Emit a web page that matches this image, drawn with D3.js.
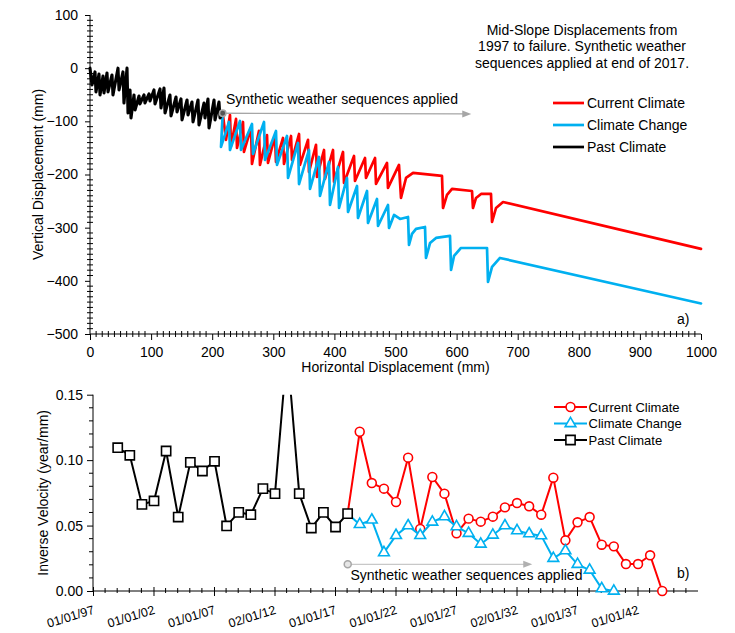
<!DOCTYPE html>
<html><head><meta charset="utf-8">
<script src="https://cdn.jsdelivr.net/npm/d3@7"></script>
<style>body{margin:0;background:#fff;} text{font-family:"Liberation Sans",Arial,sans-serif;fill:#000;}</style>
</head><body><svg id="c" width="735" height="633"></svg>
<script>
// ---------- Panel a) data: horizontal (mm) / vertical (mm) displacement ----------
const pastH = [0,3.3,8.2,9.8,14.7,16.4,21.3,22.9,27.8,29.5,36.0,37.6,45.8,47.5,54.0,55.6,60.6,62.2,65.5,67.1,72.0,73.7,80.2,81.8,88.4,90.0,96.6,98.2,104.7,106.4,114.6,116.2,121.1,122.8,130.9,132.6,140.8,142.4,148.9,150.6,158.8,160.4,166.9,168.6,176.8,178.4,186.6,188.2,193.1,194.8,203.0,204.6,211.1,212.8,217.2];
const pastV = [0,-31.6,-7.1,-44.8,-10.9,-50.4,-14.7,-46.6,-9.0,-44.8,-12.8,-50.4,0,-41.0,-7.1,-65.5,0,-84.3,-41.0,-93.7,-50.4,-78.6,-52.3,-67.3,-50.4,-65.5,-48.5,-61.7,-41.0,-67.3,-39.1,-74.9,-37.2,-84.3,-50.4,-89.9,-54.2,-82.4,-57.9,-97.4,-59.8,-88.0,-63.6,-101.2,-59.8,-106.8,-65.5,-93.7,-57.9,-112.5,-59.8,-97.4,-63.6,-93.7,-84.8];
const currentH = [217.2,222.6,229.1,230.8,239.0,240.6,250.4,252.0,263.5,265.1,276.6,278.2,289.7,291.3,302.8,304.4,315.9,317.5,329.0,330.6,342.1,343.7,356.8,358.4,369.9,371.5,383.0,384.6,397.7,399.4,414.1,415.7,432.1,433.7,450.1,451.7,466.5,468.1,486.1,487.7,505.7,509.0,517.2,528.7,576.1,577.8,584.3,592.5,625.2,626.8,631.8,640.0,656.3,658.0,664.5,676.0,1000];
const currentV = [-84.8,-134.9,-88.0,-146.3,-95.5,-150.1,-101.2,-157.6,-112.5,-180.2,-117.9,-182.0,-125.8,-178.3,-127.5,-176.4,-131.2,-180.2,-127.5,-172.6,-123.8,-182.0,-134.9,-195.2,-144.3,-204.6,-153.9,-208.4,-153.9,-214.0,-157.6,-215.9,-165.1,-212.2,-168.9,-206.5,-168.9,-217.8,-178.3,-225.3,-182.0,-244.1,-206.5,-197.1,-202.7,-263.0,-238.5,-227.2,-231.0,-263.0,-244.1,-236.6,-236.6,-289.3,-263.0,-251.7,-340.0];
const changeH = [217.2,214.4,227.5,229.1,245.5,247.1,265.1,266.8,284.8,286.4,304.4,306.1,322.4,324.1,340.5,342.1,358.4,360.1,374.8,376.4,391.2,392.8,405.9,407.6,420.6,422.3,437.0,438.6,453.4,455.0,469.7,471.4,487.7,489.4,497.6,507.4,520.5,522.1,527.0,533.6,548.3,549.9,556.5,566.3,589.2,590.9,595.8,607.2,649.8,651.4,658.0,671.0,1000];
const changeV = [-84.8,-148.2,-101.2,-153.9,-99.3,-153.9,-104.9,-161.4,-101.2,-172.6,-118.1,-182.0,-127.5,-206.5,-140.7,-218.0,-153.9,-227.2,-167.0,-240.4,-176.4,-257.3,-185.8,-263.0,-206.5,-270.5,-221.6,-281.8,-231.0,-291.2,-246.0,-296.8,-257.3,-300.6,-276.1,-283.6,-279.9,-332.5,-311.8,-302.4,-298.7,-357.0,-329.0,-319.3,-315.6,-379.5,-353.2,-338.2,-338.2,-402.1,-373.9,-357.0,-442.6];
const hTicks = [0,100,200,300,400,500,600,700,800,900,1000];
const vTicks = [100,0,-100,-200,-300,-400,-500];

// ---------- Panel b) data: inverse velocity (year/mm) ----------
const pastYears = [1999,2000,2001,2002,2003,2004,2005,2006,2007,2008,2009,2010,2011,2012,2013,2014,2015,2016,2017,2018];
const pastInv = [0.1095,0.1037,0.0662,0.0688,0.1070,0.0565,0.0983,0.0917,0.0991,0.0497,0.0601,0.0583,0.0782,0.0744,0.185,0.0744,0.0481,0.0601,0.0489,0.0591];
const currentYears = [2018,2019,2020,2021,2022,2023,2024,2025,2026,2027,2028,2029,2030,2031,2032,2033,2034,2035,2036,2037,2038,2039,2040,2041,2042,2043,2044];
const currentInv = [0.0591,0.1217,0.0825,0.0782,0.0680,0.1019,0.0474,0.0871,0.0744,0.0441,0.0553,0.0530,0.0568,0.0639,0.0672,0.0647,0.0583,0.0866,0.0387,0.0525,0.0565,0.0354,0.0341,0.0206,0.0206,0.0273,0.0];
const changeYears = [2018,2019,2020,2021,2022,2023,2024,2025,2026,2027,2028,2029,2030,2031,2032,2033,2034,2035,2036,2037,2038,2039,2040];
const changeInv = [0.0591,0.0509,0.0543,0.0293,0.0425,0.0499,0.0425,0.0527,0.0568,0.0492,0.0441,0.0359,0.0428,0.0499,0.0461,0.0438,0.0423,0.0250,0.0308,0.0204,0.0160,0.0018,0.0];
const dateTickValues = ["1997-01-01","2002-01-01","2007-01-01","2012-01-02","2017-01-01","2022-01-01","2027-01-01","2032-01-02","2037-01-01","2042-01-01"];
const dateTickLabels = ["01/01/97","01/01/02","01/01/07","02/01/12","01/01/17","01/01/22","01/01/27","02/01/32","01/01/37","01/01/42"];
const invTicks = [0,0.05,0.10,0.15];

const RED = "#ff0000", BLUE = "#00b0f0", BLACK = "#000000", GREY = "#a6a6a6";
const svg = d3.select("#c");

// ================= Panel a =================
const xA = d3.scaleLinear().domain([0,1000]).range([90,701]);
const yA = d3.scaleLinear().domain([-500,100]).range([334,15]);
const gA = svg.append("g");

// minor ticks
const minorH = d3.range(0,1001,10).filter(d=>d%100!==0);
gA.selectAll(".mhx").data(minorH).enter().append("line")
  .attr("x1",d=>xA(d)).attr("x2",d=>xA(d)).attr("y1",331).attr("y2",337)
  .attr("stroke","#000").attr("stroke-width",1);
const minorV = d3.range(-500,101,10).filter(d=>d%100!==0);
gA.selectAll(".mvy").data(minorV).enter().append("line")
  .attr("y1",d=>yA(d)).attr("y2",d=>yA(d)).attr("x1",87).attr("x2",93)
  .attr("stroke","#000").attr("stroke-width",1);

const axA_x = gA.append("g").attr("transform","translate(0,334)")
  .call(d3.axisBottom(xA).tickValues(hTicks).tickSize(6).tickPadding(7).tickFormat(d3.format("d")));
const axA_y = gA.append("g").attr("transform","translate(90,0)")
  .call(d3.axisLeft(yA).tickValues(vTicks).tickSize(5).tickPadding(7).tickFormat(d3.format("d")));
[axA_x,axA_y].forEach(a=>{
  a.select(".domain").attr("stroke","#000").attr("stroke-width",1);
  a.selectAll(".tick line").attr("stroke","#000");
  a.selectAll("text").style("font-size","14px").style("font-family","'Liberation Sans',Arial,sans-serif").attr("fill","#000");
});
axA_x.select(".domain").attr("d","M90,0H701");
axA_y.select(".domain").attr("d","M0,15V334");

const lineA = d3.line().x(d=>xA(d[0])).y(d=>yA(d[1]));
function drawA(H,V,color,w){
  gA.append("path").datum(H.map((h,i)=>[h,V[i]])).attr("d",lineA)
    .attr("fill","none").attr("stroke",color).attr("stroke-width",w)
    .attr("stroke-linejoin","round").attr("stroke-linecap","round");
}
drawA(currentH,currentV,RED,2.7);
drawA(changeH,changeV,BLUE,2.7);
drawA(pastH,pastV,BLACK,3.1);

// annotation arrow a)
const arrowStartA = [217.2,-84.8], arrowEndA = [624,-86];
gA.append("line").attr("x1",xA(arrowStartA[0])).attr("y1",yA(arrowStartA[1]))
  .attr("x2",xA(arrowEndA[0])-7).attr("y2",yA(arrowEndA[1]))
  .attr("stroke",GREY).attr("stroke-width",1.3);
gA.append("path").attr("d",`M${xA(arrowEndA[0])},${yA(arrowEndA[1])}l-9,-3.5v7z`).attr("fill",GREY);
gA.append("circle").attr("cx",xA(arrowStartA[0])).attr("cy",yA(arrowStartA[1])).attr("r",3.2)
  .attr("fill","#555").attr("stroke",GREY).attr("stroke-width",1.5);
gA.append("text").attr("x",226).attr("y",104).style("font-size","14px").text("Synthetic weather sequences applied");

// title block
const titleLines = ["Mid-Slope Displacements from","1997 to failure. Synthetic weather","sequences applied at end of 2017."];
gA.selectAll(".tl").data(titleLines).enter().append("text")
  .attr("x",582).attr("y",(d,i)=>34.5+i*16.8).attr("text-anchor","middle").style("font-size","14px").text(d=>d);

// legend a
const legA = [["Current Climate",RED],["Climate Change",BLUE],["Past Climate",BLACK]];
legA.forEach((l,i)=>{
  const y = 103 + i*22;
  gA.append("line").attr("x1",553).attr("x2",584).attr("y1",y).attr("y2",y).attr("stroke",l[1]).attr("stroke-width",2.7);
  gA.append("text").attr("x",587).attr("y",y+5).style("font-size","14px").text(l[0]);
});
gA.append("text").attr("x",677).attr("y",324).style("font-size","14px").text("a)");
gA.append("text").attr("x",395.5).attr("y",372).attr("text-anchor","middle").style("font-size","14px").text("Horizontal Displacement (mm)");
gA.append("text").attr("transform","translate(43,174.5) rotate(-90)").attr("text-anchor","middle").style("font-size","14px").text("Vertical Displacement (mm)");

// ================= Panel b =================
const parse = d3.timeParse("%Y-%m-%d");
const xB = d3.scaleTime().domain([parse("1997-01-01"),parse("2047-01-01")]).range([93,698]);
const yB = d3.scaleLinear().domain([0,0.15]).range([591,394.7]);
const gB = svg.append("g");
const yr = y => parse(y+"-01-17");

svg.append("defs").append("clipPath").attr("id","clipB").append("rect")
  .attr("x",60).attr("y",yB(0.15)).attr("width",660).attr("height",633-yB(0.15));

// minor ticks b
const minorYears = d3.range(1998,2047).filter(y=>(y-1997)%5!==0);
gB.selectAll(".mbx").data(minorYears).enter().append("line")
  .attr("x1",d=>xB(parse(d+"-01-01"))).attr("x2",d=>xB(parse(d+"-01-01"))).attr("y1",588).attr("y2",593)
  .attr("stroke","#000");
const minorInv = d3.range(1,15).filter(i=>i%5!==0).map(i=>i/100);
gB.selectAll(".mby").data(minorInv).enter().append("line")
  .attr("y1",d=>yB(d)).attr("y2",d=>yB(d)).attr("x1",89).attr("x2",93).attr("stroke","#000");

const axB_y = gB.append("g").attr("transform","translate(93,0)")
  .call(d3.axisLeft(yB).tickValues(invTicks).tickSize(6).tickPadding(4).tickFormat(d3.format(".2f")));
axB_y.select(".domain").attr("d",`M0,${yB(0.15)}V${yB(0)}`);
const axB_x = gB.append("g").attr("transform","translate(0,591)")
  .call(d3.axisBottom(xB).tickValues(dateTickValues.map(parse)).tickSize(5).tickFormat((d,i)=>dateTickLabels[i]));
axB_x.select(".domain").attr("d","M93,0H698");
axB_x.selectAll(".tick line").attr("y1",-4).attr("y2",5);
[axB_x,axB_y].forEach(a=>{
  a.select(".domain").attr("stroke","#000");
  a.selectAll(".tick line").attr("stroke","#000");
  a.selectAll("text").style("font-size","14px").style("font-family","'Liberation Sans',Arial,sans-serif").attr("fill","#000");
});
axB_x.selectAll("text").style("font-size","12.5px").attr("text-anchor","end").attr("x",0).attr("y",0)
  .attr("dy","0.71em").attr("transform","translate(-1,14) rotate(-17)");

const lineB = d3.line().x(d=>xB(d[0])).y(d=>yB(d[1]));
const plotB = gB.append("g").attr("clip-path","url(#clipB)");
function drawB(years,vals,color,sym,size,skipFirst){
  const pts = years.map((y,i)=>[yr(y),vals[i]]);
  plotB.append("path").datum(pts).attr("d",lineB).attr("fill","none").attr("stroke",color)
    .attr("stroke-width",2).attr("stroke-linejoin","round");
  plotB.selectAll(null).data(skipFirst?pts.slice(1):pts).enter().append("path")
    .attr("transform",d=>`translate(${xB(d[0])},${yB(d[1])})`)
    .attr("d",d3.symbol().type(sym).size(size))
    .attr("fill","#fff").attr("stroke",color).attr("stroke-width",1.6);
}
drawB(currentYears,currentInv,RED,d3.symbolCircle,62,true);
drawB(changeYears,changeInv,BLUE,d3.symbolTriangle,50,true);
drawB(pastYears,pastInv,BLACK,d3.symbolSquare,85,false);

// annotation arrow b)
const arrowStartB = ["2018-01-20",0.0204], arrowEndB = ["2033-04-20",0.0204];
const ax0 = xB(parse(arrowStartB[0])), ay0 = yB(arrowStartB[1]), ax1 = xB(parse(arrowEndB[0]));
gB.append("line").attr("x1",ax0).attr("y1",ay0).attr("x2",ax1-7).attr("y2",ay0).attr("stroke","#c8c8c8").attr("stroke-width",1.3);
gB.append("path").attr("d",`M${ax1},${ay0}l-9,-3.5v7z`).attr("fill","#b0b0b0");
gB.append("circle").attr("cx",ax0).attr("cy",ay0).attr("r",3.5).attr("fill","#e6e6e6").attr("stroke",GREY).attr("stroke-width",1.5);
gB.append("text").attr("x",350.5).attr("y",580).style("font-size","14px").text("Synthetic weather sequences applied");
gB.append("text").attr("x",677).attr("y",578).style("font-size","14px").text("b)");
gB.append("text").attr("transform",`translate(48,${(yB(0)+yB(0.15))/2}) rotate(-90)`).attr("text-anchor","middle").style("font-size","14px").text("Inverse Velocity (year/mm)");

// legend b
const legB = [["Current Climate",RED,d3.symbolCircle,62],["Climate Change",BLUE,d3.symbolTriangle,50],["Past Climate",BLACK,d3.symbolSquare,85]];
legB.forEach((l,i)=>{
  const y = 407 + i*16.5;
  gB.append("line").attr("x1",554).attr("x2",587).attr("y1",y).attr("y2",y).attr("stroke",l[1]).attr("stroke-width",2);
  gB.append("path").attr("transform",`translate(570.5,${y})`).attr("d",d3.symbol().type(l[2]).size(l[3]))
    .attr("fill","#fff").attr("stroke",l[1]).attr("stroke-width",1.6);
  gB.append("text").attr("x",588.5).attr("y",y+4.5).style("font-size","13px").text(l[0]);
});
</script>
</body></html>
